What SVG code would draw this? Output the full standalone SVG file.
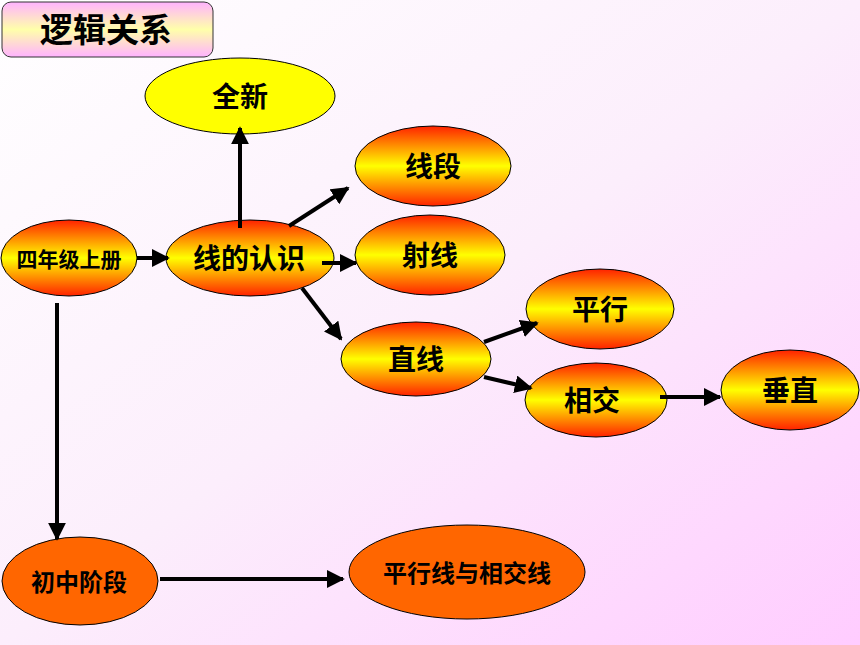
<svg xmlns="http://www.w3.org/2000/svg" width="860" height="645" viewBox="0 0 860 645">
<defs>
<linearGradient id="bg" x1="0" y1="0" x2="1" y2="1">
<stop offset="0" stop-color="#FFFFFF"/>
<stop offset="0.5" stop-color="#FCEEFC"/>
<stop offset="1" stop-color="#FFCCFF"/>
</linearGradient>
<linearGradient id="ry" x1="0" y1="0" x2="0" y2="1">
<stop offset="0" stop-color="#FF2200"/>
<stop offset="0.5" stop-color="#FFFF00"/>
<stop offset="1" stop-color="#FF2200"/>
</linearGradient>
<linearGradient id="tg" x1="0" y1="0" x2="0" y2="1">
<stop offset="0" stop-color="#FFB3FF"/>
<stop offset="0.5" stop-color="#FFFFAA"/>
<stop offset="1" stop-color="#FFB3FF"/>
</linearGradient>
<marker id="ah" viewBox="0 0 10 10" refX="9" refY="5" markerWidth="4.5" markerHeight="4.5" orient="auto" markerUnits="strokeWidth">
<path d="M0,0 L10,5 L0,10 z" fill="#000"/>
</marker>
<style>
.g{fill:url(#ry);stroke:#000;stroke-width:1}
.y{fill:#FFFF00;stroke:#000;stroke-width:1}
.o{fill:#FF6600;stroke:#000;stroke-width:1}
text{font-family:"Liberation Sans","Noto Sans CJK SC",sans-serif;font-weight:bold;fill:#000;text-anchor:middle;dominant-baseline:central}
.c line{stroke:#000;stroke-width:4;marker-end:url(#ah)}
</style>
</defs>
<rect width="860" height="645" fill="url(#bg)"/>
<g id="title"><rect x="2" y="2" width="211" height="55" rx="9" fill="url(#tg)" stroke="#333" stroke-width="1"/><text x="106" y="30" font-size="33">逻辑关系</text></g>
<g id="n-quanxin"><ellipse cx="240" cy="96" rx="95" ry="38" class="y"/><text x="240" y="97" font-size="28">全新</text></g>
<g id="n-xianduan"><ellipse cx="433" cy="166" rx="78" ry="40" class="g"/><text x="433" y="167" font-size="28">线段</text></g>
<g id="n-sinianji"><ellipse cx="69" cy="258" rx="68" ry="38" class="g"/><text x="69" y="259" font-size="21">四年级上册</text></g>
<g id="n-xianderenshi"><ellipse cx="250" cy="258" rx="84" ry="38" class="g"/><text x="249" y="259" font-size="28">线的认识</text></g>
<g id="n-shexian"><ellipse cx="430" cy="255" rx="75" ry="40" class="g"/><text x="430" y="256" font-size="28">射线</text></g>
<g id="n-zhixian"><ellipse cx="416" cy="359" rx="75" ry="37" class="g"/><text x="416" y="360" font-size="28">直线</text></g>
<g id="n-pingxing"><ellipse cx="600" cy="309" rx="74" ry="40" class="g"/><text x="600" y="310" font-size="28">平行</text></g>
<g id="n-xiangjiao"><ellipse cx="596" cy="400" rx="71" ry="37" class="g"/><text x="592" y="401" font-size="28">相交</text></g>
<g id="n-chuizhi"><ellipse cx="790" cy="390" rx="69" ry="40" class="g"/><text x="790" y="391" font-size="28">垂直</text></g>
<g id="n-chuzhong"><ellipse cx="80" cy="581" rx="78" ry="44" class="o"/><text x="79" y="582" font-size="24">初中阶段</text></g>
<g id="n-pxxyxjx"><ellipse cx="467" cy="572" rx="118" ry="47" class="o"/><text x="467" y="573" font-size="24">平行线与相交线</text></g>
<g id="connectors" class="c">
<line x1="137" y1="258" x2="168" y2="258"/>
<line x1="240" y1="228" x2="240" y2="128"/>
<line x1="289" y1="226" x2="348" y2="188"/>
<line x1="322" y1="263" x2="356" y2="263"/>
<line x1="302" y1="288" x2="341" y2="339"/>
<line x1="484" y1="342" x2="537" y2="323"/>
<line x1="484" y1="377" x2="531" y2="388"/>
<line x1="660" y1="397" x2="720" y2="397"/>
<line x1="57" y1="303" x2="57" y2="539"/>
<line x1="160" y1="579" x2="343" y2="579"/>
</g>
</svg>
